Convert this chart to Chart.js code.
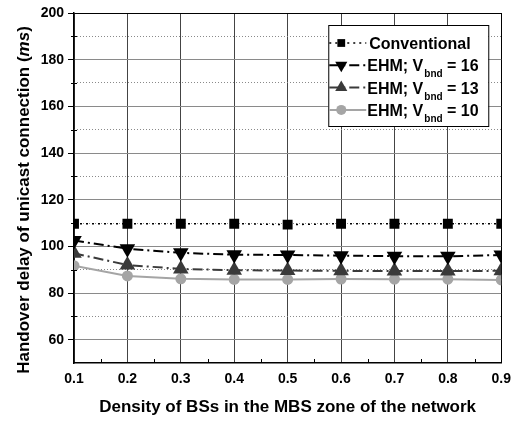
<!DOCTYPE html>
<html lang="en">
  <head>
    <meta charset="UTF-8" />
    <title>Handover delay of unicast connection</title>
    <script src="https://cdn.jsdelivr.net/npm/chart.js"></script>
    <style>
      body { margin: 0; background: #fff; }
      #chart { width: 519px; height: 423px; }
    </style>
  </head>
  <body>
    <div id="chart"><canvas></canvas></div>
    <script>
      // values
      const density = [0.1, 0.2, 0.3, 0.4, 0.5, 0.6, 0.7, 0.8, 0.9];
      const conventional = [109.7, 109.7, 109.7, 109.7, 109.3, 109.7, 109.7, 109.7, 109.7];
      const ehm16 = [102.5, 99, 97.2, 96.4, 96.3, 96, 95.8, 95.7, 96.3];
      const ehm13 = [97, 92, 90.3, 89.8, 89.6, 89.5, 89.4, 89.4, 89.5];
      const ehm10 = [91.7, 87.3, 86.1, 85.8, 85.8, 86, 85.9, 85.9, 85.6];
      const yMajorTicks = [60, 80, 100, 120, 140, 160, 180, 200];
      const yMinorTicks = [70, 90, 110, 130, 150, 170, 190];
      const xMinorTicks = [0.15, 0.25, 0.35, 0.45, 0.55, 0.65, 0.75, 0.85];
      const seriesNames = ["Conventional", "EHM; V", "EHM; V", "EHM; V"];
      const seriesSubs = ["", "bnd", "bnd", "bnd"];
      const seriesTails = ["", " = 16", " = 13", " = 10"];

      const FONT = "'Liberation Sans', Arial, sans-serif";
      const pts = (arr) => arr.map((v, i) => ({ x: density[i], y: v }));

      // legend with the subscripts, drawn in the top right corner
      const boxLegend = {
        id: "boxLegend",
        afterDatasetsDraw(chart) {
          const ctx = chart.ctx;
          const a = chart.chartArea;
          const left = a.right - 173, top = a.top + 12;
          const w = 160, h = 101;
          ctx.save();
          ctx.fillStyle = "#fff";
          ctx.fillRect(left, top, w, h);
          ctx.strokeStyle = "#000";
          ctx.lineWidth = 1;
          ctx.strokeRect(left + 0.5, top + 0.5, w, h);
          chart.data.datasets.forEach((ds, i) => {
            const y = top + 18 + i * 22.3;
            ctx.save();
            ctx.strokeStyle = ds.borderColor;
            ctx.lineWidth = ds.borderWidth;
            ctx.setLineDash(ds.borderDash || []);
            ctx.beginPath();
            ctx.moveTo(left + 1, y);
            ctx.lineTo(left + 38, y);
            ctx.stroke();
            ctx.restore();
            ctx.fillStyle = ds.borderColor;
            ctx.strokeStyle = ds.borderColor;
            Chart.helpers.drawPoint(ctx, {
              pointStyle: ds.pointStyle,
              rotation: ds.pointRotation || 0,
              radius: ds.legendRadius,
              borderWidth: 0,
            }, left + 13, y);
            ctx.fillStyle = "#000";
            ctx.textBaseline = "alphabetic";
            ctx.font = "bold 16px " + FONT;
            let x = left + (i === 0 ? 41 : 39);
            ctx.fillText(seriesNames[i], x, y + 6);
            x += ctx.measureText(seriesNames[i]).width;
            if (seriesSubs[i]) {
              ctx.font = "bold 10px " + FONT;
              ctx.fillText(seriesSubs[i], x + 1, y + 12);
              x += ctx.measureText(seriesSubs[i]).width + 1;
              ctx.font = "bold 16px " + FONT;
              ctx.fillText(seriesTails[i], x, y + 6);
            }
          });
          ctx.restore();
        },
      };

      // y title has an italic "ms", so it is drawn by hand
      const yTitle = {
        id: "yTitle",
        afterDraw(chart) {
          const ctx = chart.ctx;
          const parts = [
            ["Handover delay of unicast connection (", "bold"],
            ["ms", "italic bold"],
            [")", "bold"],
          ];
          ctx.save();
          let total = 0;
          parts.forEach((p) => {
            ctx.font = p[1] + " 17px " + FONT;
            total += ctx.measureText(p[0]).width;
          });
          ctx.translate(29, 200);
          ctx.rotate(-Math.PI / 2);
          ctx.fillStyle = "#000";
          ctx.textBaseline = "alphabetic";
          let x = -total / 2;
          parts.forEach((p) => {
            ctx.font = p[1] + " 17px " + FONT;
            ctx.fillText(p[0], x, 0);
            x += ctx.measureText(p[0]).width;
          });
          ctx.restore();
        },
      };

      // short minor ticks on both axes
      const minorTicks = {
        id: "minorTicks",
        afterDraw(chart) {
          const ctx = chart.ctx;
          const xs = chart.scales.x, ys = chart.scales.y;
          ctx.save();
          ctx.strokeStyle = "#000";
          ctx.lineWidth = 1;
          ctx.beginPath();
          for (const v of xMinorTicks) {
            const px = Math.round(xs.getPixelForValue(v)) + 0.5;
            ctx.moveTo(px, ys.bottom);
            ctx.lineTo(px, ys.bottom - 4);
          }
          for (const v of yMinorTicks) {
            const py = Math.round(ys.getPixelForValue(v)) + 0.5;
            ctx.moveTo(xs.left - 3, py);
            ctx.lineTo(xs.left + 3, py);
          }
          ctx.stroke();
          ctx.restore();
        },
      };

      new Chart(document.querySelector("#chart canvas"), {
        type: "line",
        data: {
          datasets: [
            {
              label: "Conventional",
              data: pts(conventional),
              borderColor: "#000",
              backgroundColor: "#000",
              borderWidth: 1.5,
              borderDash: [2, 4],
              pointStyle: "rect",
              pointRadius: 7,
              legendRadius: 5.5,
            },
            {
              label: "EHM; Vbnd = 16",
              data: pts(ehm16),
              borderColor: "#000",
              backgroundColor: "#000",
              borderWidth: 2,
              borderDash: [10, 4, 2, 4],
              pointStyle: "triangle",
              pointRotation: 180,
              pointRadius: 9,
              legendRadius: 7,
            },
            {
              label: "EHM; Vbnd = 13",
              data: pts(ehm13),
              borderColor: "#3a3a3a",
              backgroundColor: "#3a3a3a",
              borderWidth: 2,
              borderDash: [10, 4, 2, 4],
              pointStyle: "triangle",
              pointRadius: 9,
              legendRadius: 7,
            },
            {
              label: "EHM; Vbnd = 10",
              data: pts(ehm10),
              borderColor: "#a5a5a5",
              backgroundColor: "#a5a5a5",
              borderWidth: 2,
              pointStyle: "circle",
              pointRadius: 5.5,
              legendRadius: 5,
            },
          ].map((d) => ({
            ...d,
            pointBackgroundColor: d.borderColor,
            pointBorderColor: d.borderColor,
            pointBorderWidth: 0,
            pointHoverRadius: d.pointRadius,
            tension: 0,
            clip: 0,
          })),
        },
        options: {
          responsive: true,
          maintainAspectRatio: false,
          animation: false,
          layout: { padding: { top: 13, right: 14, left: 0, bottom: 0 } },
          plugins: { legend: { display: false }, tooltip: { enabled: false } },
          scales: {
            x: {
              type: "linear",
              min: 0.1,
              max: 0.9,
              afterBuildTicks: (s) => { s.ticks = density.map((v) => ({ value: v })); },
              afterFit: (s) => { s.height = 60; },
              ticks: {
                callback: (v) => v.toFixed(1),
                font: { family: FONT, size: 14, weight: "bold" },
                color: "#000",
                padding: 8,
                maxRotation: 0,
              },
              grid: {
                drawTicks: false,
                color: (c) => (c.tick && c.tick.value > 0.85 ? "#000" : "#444"),
              },
              border: { color: "#000", width: 1.5 },
              title: {
                display: true,
                text: "Density of BSs in the MBS zone of the network",
                font: { family: FONT, size: 17, weight: "bold" },
                color: "#000",
                padding: { top: 0, bottom: 5 },
              },
            },
            y: {
              type: "linear",
              min: 50,
              max: 200,
              afterBuildTicks: (s) => { s.ticks = yMajorTicks.map((v) => ({ value: v })); },
              afterFit: (s) => { s.width = 74; },
              ticks: {
                font: { family: FONT, size: 14, weight: "bold" },
                color: "#000",
                padding: 4,
              },
              grid: {
                tickLength: 6,
                tickColor: "#000",
                color: (c) => (c.tick && c.tick.value === 200 ? "#000" : "#8a8a8a"),
              },
              border: { color: "#000", width: 1.5 },
            },
            y2: {
              type: "linear",
              position: "left",
              min: 50,
              max: 200,
              afterBuildTicks: (s) => { s.ticks = yMinorTicks.map((v) => ({ value: v })); },
              afterFit: (s) => { s.width = 0; },
              ticks: { display: false },
              grid: { color: "#8a8a8a", drawTicks: false },
              border: { display: false, dash: [1, 2] },
            },
          },
        },
        plugins: [boxLegend, yTitle, minorTicks],
      });
    </script>
  </body>
